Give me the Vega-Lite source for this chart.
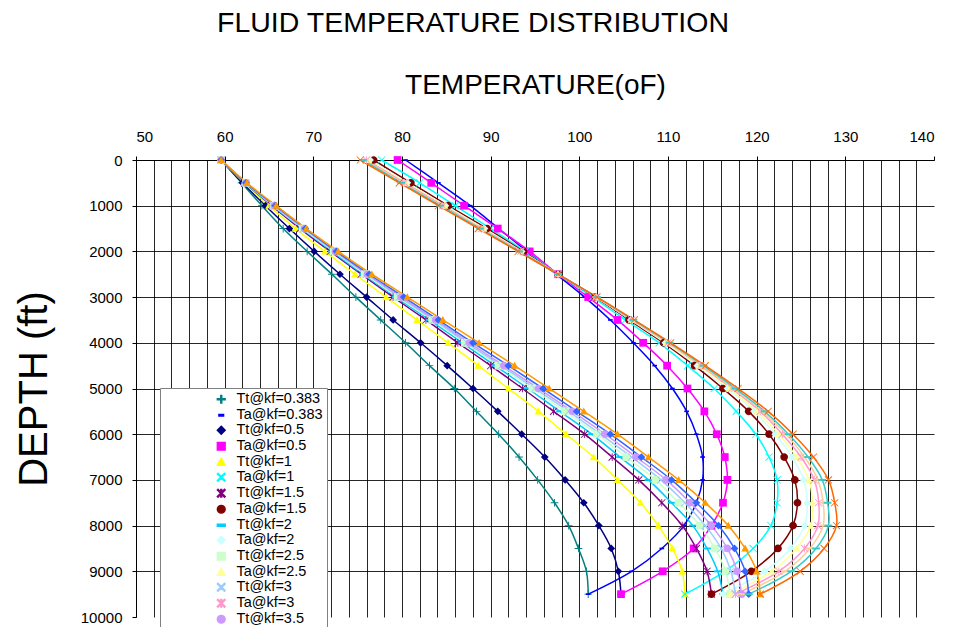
{
"$schema":"https://vega.github.io/schema/vega-lite/v6.json",
"width":798,"height":457,
"autosize":{"type":"none"},
"padding":{"left":136,"top":160,"right":19,"bottom":10},
"background":"white",
"config":{"font":"Liberation Sans","view":{"stroke":null},"axis":{"domainColor":"#000","gridColor":"#000","tickColor":"#000","labelColor":"#000","titleColor":"#000","labelFont":"Liberation Sans","titleFont":"Liberation Sans","titleFontWeight":"normal"}},
"title":{"text":"FLUID TEMPERATURE DISTRIBUTION","fontSize":28.5,"fontWeight":"normal","font":"Liberation Sans","color":"#000","anchor":"middle","dx":-62,"offset":34},
"datasets":{"v":[
{"s":"Tt@kf=0.383","d":0,"t":59.6},{"s":"Tt@kf=0.383","d":500,"t":61.9},{"s":"Tt@kf=0.383","d":1000,"t":64.2},{"s":"Tt@kf=0.383","d":1500,"t":66.6},{"s":"Tt@kf=0.383","d":2000,"t":69.3},{"s":"Tt@kf=0.383","d":2500,"t":72.1},{"s":"Tt@kf=0.383","d":3000,"t":74.8},{"s":"Tt@kf=0.383","d":3500,"t":77.6},{"s":"Tt@kf=0.383","d":4000,"t":80.4},{"s":"Tt@kf=0.383","d":4500,"t":83.1},{"s":"Tt@kf=0.383","d":5000,"t":85.9},{"s":"Tt@kf=0.383","d":5500,"t":88.4},{"s":"Tt@kf=0.383","d":6000,"t":90.9},{"s":"Tt@kf=0.383","d":6500,"t":93.2},{"s":"Tt@kf=0.383","d":7000,"t":95.3},{"s":"Tt@kf=0.383","d":7500,"t":97.2},{"s":"Tt@kf=0.383","d":8000,"t":98.8},{"s":"Tt@kf=0.383","d":8500,"t":99.9},{"s":"Tt@kf=0.383","d":9000,"t":100.8},{"s":"Tt@kf=0.383","d":9500,"t":101.0},
{"s":"Ta@kf=0.383","d":0,"t":80.4},{"s":"Ta@kf=0.383","d":500,"t":84.1},{"s":"Ta@kf=0.383","d":1000,"t":87.7},{"s":"Ta@kf=0.383","d":1500,"t":90.9},{"s":"Ta@kf=0.383","d":2000,"t":94.1},{"s":"Ta@kf=0.383","d":2500,"t":97.4},{"s":"Ta@kf=0.383","d":3000,"t":100.6},{"s":"Ta@kf=0.383","d":3500,"t":103.5},{"s":"Ta@kf=0.383","d":4000,"t":106.1},{"s":"Ta@kf=0.383","d":4500,"t":108.5},{"s":"Ta@kf=0.383","d":5000,"t":110.5},{"s":"Ta@kf=0.383","d":5500,"t":112.1},{"s":"Ta@kf=0.383","d":6000,"t":113.2},{"s":"Ta@kf=0.383","d":6500,"t":113.9},{"s":"Ta@kf=0.383","d":7000,"t":113.9},{"s":"Ta@kf=0.383","d":7500,"t":113.2},{"s":"Ta@kf=0.383","d":8000,"t":111.8},{"s":"Ta@kf=0.383","d":8500,"t":109.3},{"s":"Ta@kf=0.383","d":9000,"t":105.9},{"s":"Ta@kf=0.383","d":9500,"t":101.0},
{"s":"Tt@kf=0.5","d":0,"t":59.6},{"s":"Tt@kf=0.5","d":500,"t":62.0},{"s":"Tt@kf=0.5","d":1000,"t":64.6},{"s":"Tt@kf=0.5","d":1500,"t":67.3},{"s":"Tt@kf=0.5","d":2000,"t":70.1},{"s":"Tt@kf=0.5","d":2500,"t":73.0},{"s":"Tt@kf=0.5","d":3000,"t":76.0},{"s":"Tt@kf=0.5","d":3500,"t":79.0},{"s":"Tt@kf=0.5","d":4000,"t":82.1},{"s":"Tt@kf=0.5","d":4500,"t":85.1},{"s":"Tt@kf=0.5","d":5000,"t":88.0},{"s":"Tt@kf=0.5","d":5500,"t":90.8},{"s":"Tt@kf=0.5","d":6000,"t":93.5},{"s":"Tt@kf=0.5","d":6500,"t":96.1},{"s":"Tt@kf=0.5","d":7000,"t":98.4},{"s":"Tt@kf=0.5","d":7500,"t":100.5},{"s":"Tt@kf=0.5","d":8000,"t":102.2},{"s":"Tt@kf=0.5","d":8500,"t":103.6},{"s":"Tt@kf=0.5","d":9000,"t":104.4},{"s":"Tt@kf=0.5","d":9500,"t":104.7},
{"s":"Ta@kf=0.5","d":0,"t":79.5},{"s":"Ta@kf=0.5","d":500,"t":83.3},{"s":"Ta@kf=0.5","d":1000,"t":87.0},{"s":"Ta@kf=0.5","d":1500,"t":90.8},{"s":"Ta@kf=0.5","d":2000,"t":94.4},{"s":"Ta@kf=0.5","d":2500,"t":97.6},{"s":"Ta@kf=0.5","d":3000,"t":101.0},{"s":"Ta@kf=0.5","d":3500,"t":104.3},{"s":"Ta@kf=0.5","d":4000,"t":107.2},{"s":"Ta@kf=0.5","d":4500,"t":109.9},{"s":"Ta@kf=0.5","d":5000,"t":112.2},{"s":"Ta@kf=0.5","d":5500,"t":114.1},{"s":"Ta@kf=0.5","d":6000,"t":115.5},{"s":"Ta@kf=0.5","d":6500,"t":116.4},{"s":"Ta@kf=0.5","d":7000,"t":116.7},{"s":"Ta@kf=0.5","d":7500,"t":116.2},{"s":"Ta@kf=0.5","d":8000,"t":114.9},{"s":"Ta@kf=0.5","d":8500,"t":112.9},{"s":"Ta@kf=0.5","d":9000,"t":109.4},{"s":"Ta@kf=0.5","d":9500,"t":104.7},
{"s":"Tt@kf=1","d":0,"t":59.6},{"s":"Tt@kf=1","d":500,"t":62.2},{"s":"Tt@kf=1","d":1000,"t":65.0},{"s":"Tt@kf=1","d":1500,"t":68.0},{"s":"Tt@kf=1","d":2000,"t":71.3},{"s":"Tt@kf=1","d":2500,"t":74.7},{"s":"Tt@kf=1","d":3000,"t":78.2},{"s":"Tt@kf=1","d":3500,"t":81.7},{"s":"Tt@kf=1","d":4000,"t":85.2},{"s":"Tt@kf=1","d":4500,"t":88.6},{"s":"Tt@kf=1","d":5000,"t":92.0},{"s":"Tt@kf=1","d":5500,"t":95.4},{"s":"Tt@kf=1","d":6000,"t":98.5},{"s":"Tt@kf=1","d":6500,"t":101.6},{"s":"Tt@kf=1","d":7000,"t":104.3},{"s":"Tt@kf=1","d":7500,"t":106.9},{"s":"Tt@kf=1","d":8000,"t":108.9},{"s":"Tt@kf=1","d":8500,"t":110.5},{"s":"Tt@kf=1","d":9000,"t":111.6},{"s":"Tt@kf=1","d":9500,"t":111.9},
{"s":"Ta@kf=1","d":0,"t":77.7},{"s":"Ta@kf=1","d":500,"t":82.0},{"s":"Ta@kf=1","d":1000,"t":86.0},{"s":"Ta@kf=1","d":1500,"t":90.0},{"s":"Ta@kf=1","d":2000,"t":93.9},{"s":"Ta@kf=1","d":2500,"t":97.6},{"s":"Ta@kf=1","d":3000,"t":101.5},{"s":"Ta@kf=1","d":3500,"t":105.2},{"s":"Ta@kf=1","d":4000,"t":109.0},{"s":"Ta@kf=1","d":4500,"t":112.2},{"s":"Ta@kf=1","d":5000,"t":115.2},{"s":"Ta@kf=1","d":5500,"t":117.7},{"s":"Ta@kf=1","d":6000,"t":119.9},{"s":"Ta@kf=1","d":6500,"t":121.4},{"s":"Ta@kf=1","d":7000,"t":122.3},{"s":"Ta@kf=1","d":7500,"t":122.3},{"s":"Ta@kf=1","d":8000,"t":121.6},{"s":"Ta@kf=1","d":8500,"t":119.6},{"s":"Ta@kf=1","d":9000,"t":116.4},{"s":"Ta@kf=1","d":9500,"t":111.9},
{"s":"Tt@kf=1.5","d":0,"t":59.6},{"s":"Tt@kf=1.5","d":500,"t":62.3},{"s":"Tt@kf=1.5","d":1000,"t":65.3},{"s":"Tt@kf=1.5","d":1500,"t":68.5},{"s":"Tt@kf=1.5","d":2000,"t":71.9},{"s":"Tt@kf=1.5","d":2500,"t":75.4},{"s":"Tt@kf=1.5","d":3000,"t":79.0},{"s":"Tt@kf=1.5","d":3500,"t":82.7},{"s":"Tt@kf=1.5","d":4000,"t":86.3},{"s":"Tt@kf=1.5","d":4500,"t":90.0},{"s":"Tt@kf=1.5","d":5000,"t":93.6},{"s":"Tt@kf=1.5","d":5500,"t":97.1},{"s":"Tt@kf=1.5","d":6000,"t":100.6},{"s":"Tt@kf=1.5","d":6500,"t":103.7},{"s":"Tt@kf=1.5","d":7000,"t":106.7},{"s":"Tt@kf=1.5","d":7500,"t":109.3},{"s":"Tt@kf=1.5","d":8000,"t":111.6},{"s":"Tt@kf=1.5","d":8500,"t":113.2},{"s":"Tt@kf=1.5","d":9000,"t":114.4},{"s":"Tt@kf=1.5","d":9500,"t":114.9},
{"s":"Ta@kf=1.5","d":0,"t":76.8},{"s":"Ta@kf=1.5","d":500,"t":81.0},{"s":"Ta@kf=1.5","d":1000,"t":85.2},{"s":"Ta@kf=1.5","d":1500,"t":89.6},{"s":"Ta@kf=1.5","d":2000,"t":93.7},{"s":"Ta@kf=1.5","d":2500,"t":97.6},{"s":"Ta@kf=1.5","d":3000,"t":101.8},{"s":"Ta@kf=1.5","d":3500,"t":105.6},{"s":"Ta@kf=1.5","d":4000,"t":109.5},{"s":"Ta@kf=1.5","d":4500,"t":113.0},{"s":"Ta@kf=1.5","d":5000,"t":116.2},{"s":"Ta@kf=1.5","d":5500,"t":119.1},{"s":"Ta@kf=1.5","d":6000,"t":121.4},{"s":"Ta@kf=1.5","d":6500,"t":123.1},{"s":"Ta@kf=1.5","d":7000,"t":124.3},{"s":"Ta@kf=1.5","d":7500,"t":124.6},{"s":"Ta@kf=1.5","d":8000,"t":124.1},{"s":"Ta@kf=1.5","d":8500,"t":122.4},{"s":"Ta@kf=1.5","d":9000,"t":119.4},{"s":"Ta@kf=1.5","d":9500,"t":114.9},
{"s":"Tt@kf=2","d":0,"t":59.6},{"s":"Tt@kf=2","d":500,"t":62.3},{"s":"Tt@kf=2","d":1000,"t":65.4},{"s":"Tt@kf=2","d":1500,"t":68.7},{"s":"Tt@kf=2","d":2000,"t":72.1},{"s":"Tt@kf=2","d":2500,"t":75.6},{"s":"Tt@kf=2","d":3000,"t":79.3},{"s":"Tt@kf=2","d":3500,"t":83.1},{"s":"Tt@kf=2","d":4000,"t":86.8},{"s":"Tt@kf=2","d":4500,"t":90.5},{"s":"Tt@kf=2","d":5000,"t":94.2},{"s":"Tt@kf=2","d":5500,"t":97.8},{"s":"Tt@kf=2","d":6000,"t":101.4},{"s":"Tt@kf=2","d":6500,"t":104.6},{"s":"Tt@kf=2","d":7000,"t":107.8},{"s":"Tt@kf=2","d":7500,"t":110.4},{"s":"Tt@kf=2","d":8000,"t":112.8},{"s":"Tt@kf=2","d":8500,"t":114.4},{"s":"Tt@kf=2","d":9000,"t":115.6},{"s":"Tt@kf=2","d":9500,"t":116.2},
{"s":"Ta@kf=2","d":0,"t":76.4},{"s":"Ta@kf=2","d":500,"t":80.6},{"s":"Ta@kf=2","d":1000,"t":84.9},{"s":"Ta@kf=2","d":1500,"t":89.3},{"s":"Ta@kf=2","d":2000,"t":93.5},{"s":"Ta@kf=2","d":2500,"t":97.6},{"s":"Ta@kf=2","d":3000,"t":101.9},{"s":"Ta@kf=2","d":3500,"t":105.8},{"s":"Ta@kf=2","d":4000,"t":109.7},{"s":"Ta@kf=2","d":4500,"t":113.3},{"s":"Ta@kf=2","d":5000,"t":116.7},{"s":"Ta@kf=2","d":5500,"t":119.7},{"s":"Ta@kf=2","d":6000,"t":122.1},{"s":"Ta@kf=2","d":6500,"t":124.0},{"s":"Ta@kf=2","d":7000,"t":125.3},{"s":"Ta@kf=2","d":7500,"t":125.7},{"s":"Ta@kf=2","d":8000,"t":125.4},{"s":"Ta@kf=2","d":8500,"t":123.8},{"s":"Ta@kf=2","d":9000,"t":120.9},{"s":"Ta@kf=2","d":9500,"t":116.2},
{"s":"Tt@kf=2.5","d":0,"t":59.6},{"s":"Tt@kf=2.5","d":500,"t":62.4},{"s":"Tt@kf=2.5","d":1000,"t":65.5},{"s":"Tt@kf=2.5","d":1500,"t":68.8},{"s":"Tt@kf=2.5","d":2000,"t":72.3},{"s":"Tt@kf=2.5","d":2500,"t":75.8},{"s":"Tt@kf=2.5","d":3000,"t":79.5},{"s":"Tt@kf=2.5","d":3500,"t":83.4},{"s":"Tt@kf=2.5","d":4000,"t":87.1},{"s":"Tt@kf=2.5","d":4500,"t":90.9},{"s":"Tt@kf=2.5","d":5000,"t":94.7},{"s":"Tt@kf=2.5","d":5500,"t":98.4},{"s":"Tt@kf=2.5","d":6000,"t":102.0},{"s":"Tt@kf=2.5","d":6500,"t":105.3},{"s":"Tt@kf=2.5","d":7000,"t":108.6},{"s":"Tt@kf=2.5","d":7500,"t":111.2},{"s":"Tt@kf=2.5","d":8000,"t":113.6},{"s":"Tt@kf=2.5","d":8500,"t":115.3},{"s":"Tt@kf=2.5","d":9000,"t":116.5},{"s":"Tt@kf=2.5","d":9500,"t":117.0},
{"s":"Ta@kf=2.5","d":0,"t":76.2},{"s":"Ta@kf=2.5","d":500,"t":80.5},{"s":"Ta@kf=2.5","d":1000,"t":84.8},{"s":"Ta@kf=2.5","d":1500,"t":89.2},{"s":"Ta@kf=2.5","d":2000,"t":93.4},{"s":"Ta@kf=2.5","d":2500,"t":97.6},{"s":"Ta@kf=2.5","d":3000,"t":101.9},{"s":"Ta@kf=2.5","d":3500,"t":105.9},{"s":"Ta@kf=2.5","d":4000,"t":109.8},{"s":"Ta@kf=2.5","d":4500,"t":113.5},{"s":"Ta@kf=2.5","d":5000,"t":116.9},{"s":"Ta@kf=2.5","d":5500,"t":120.0},{"s":"Ta@kf=2.5","d":6000,"t":122.5},{"s":"Ta@kf=2.5","d":6500,"t":124.5},{"s":"Ta@kf=2.5","d":7000,"t":125.9},{"s":"Ta@kf=2.5","d":7500,"t":126.3},{"s":"Ta@kf=2.5","d":8000,"t":126.1},{"s":"Ta@kf=2.5","d":8500,"t":124.5},{"s":"Ta@kf=2.5","d":9000,"t":121.7},{"s":"Ta@kf=2.5","d":9500,"t":117.0},
{"s":"Tt@kf=3","d":0,"t":59.6},{"s":"Tt@kf=3","d":500,"t":62.4},{"s":"Tt@kf=3","d":1000,"t":65.5},{"s":"Tt@kf=3","d":1500,"t":68.9},{"s":"Tt@kf=3","d":2000,"t":72.4},{"s":"Tt@kf=3","d":2500,"t":76.0},{"s":"Tt@kf=3","d":3000,"t":79.7},{"s":"Tt@kf=3","d":3500,"t":83.6},{"s":"Tt@kf=3","d":4000,"t":87.3},{"s":"Tt@kf=3","d":4500,"t":91.2},{"s":"Tt@kf=3","d":5000,"t":95.0},{"s":"Tt@kf=3","d":5500,"t":98.8},{"s":"Tt@kf=3","d":6000,"t":102.4},{"s":"Tt@kf=3","d":6500,"t":105.9},{"s":"Tt@kf=3","d":7000,"t":109.2},{"s":"Tt@kf=3","d":7500,"t":111.9},{"s":"Tt@kf=3","d":8000,"t":114.2},{"s":"Tt@kf=3","d":8500,"t":116.0},{"s":"Tt@kf=3","d":9000,"t":117.1},{"s":"Tt@kf=3","d":9500,"t":117.6},
{"s":"Ta@kf=3","d":0,"t":76.0},{"s":"Ta@kf=3","d":500,"t":80.3},{"s":"Ta@kf=3","d":1000,"t":84.6},{"s":"Ta@kf=3","d":1500,"t":89.0},{"s":"Ta@kf=3","d":2000,"t":93.4},{"s":"Ta@kf=3","d":2500,"t":97.6},{"s":"Ta@kf=3","d":3000,"t":101.9},{"s":"Ta@kf=3","d":3500,"t":105.9},{"s":"Ta@kf=3","d":4000,"t":110.0},{"s":"Ta@kf=3","d":4500,"t":113.7},{"s":"Ta@kf=3","d":5000,"t":117.2},{"s":"Ta@kf=3","d":5500,"t":120.4},{"s":"Ta@kf=3","d":6000,"t":122.9},{"s":"Ta@kf=3","d":6500,"t":125.0},{"s":"Ta@kf=3","d":7000,"t":126.5},{"s":"Ta@kf=3","d":7500,"t":127.0},{"s":"Ta@kf=3","d":8000,"t":126.9},{"s":"Ta@kf=3","d":8500,"t":125.4},{"s":"Ta@kf=3","d":9000,"t":122.5},{"s":"Ta@kf=3","d":9500,"t":117.6},
{"s":"Tt@kf=3.5","d":0,"t":59.6},{"s":"Tt@kf=3.5","d":500,"t":62.4},{"s":"Tt@kf=3.5","d":1000,"t":65.6},{"s":"Tt@kf=3.5","d":1500,"t":69.0},{"s":"Tt@kf=3.5","d":2000,"t":72.5},{"s":"Tt@kf=3.5","d":2500,"t":76.1},{"s":"Tt@kf=3.5","d":3000,"t":79.9},{"s":"Tt@kf=3.5","d":3500,"t":83.8},{"s":"Tt@kf=3.5","d":4000,"t":87.6},{"s":"Tt@kf=3.5","d":4500,"t":91.5},{"s":"Tt@kf=3.5","d":5000,"t":95.4},{"s":"Tt@kf=3.5","d":5500,"t":99.2},{"s":"Tt@kf=3.5","d":6000,"t":102.9},{"s":"Tt@kf=3.5","d":6500,"t":106.4},{"s":"Tt@kf=3.5","d":7000,"t":109.8},{"s":"Tt@kf=3.5","d":7500,"t":112.5},{"s":"Tt@kf=3.5","d":8000,"t":114.9},{"s":"Tt@kf=3.5","d":8500,"t":116.7},{"s":"Tt@kf=3.5","d":9000,"t":117.8},{"s":"Tt@kf=3.5","d":9500,"t":118.3},
{"s":"Ta@kf=3.5","d":0,"t":75.8},{"s":"Ta@kf=3.5","d":500,"t":80.1},{"s":"Ta@kf=3.5","d":1000,"t":84.4},{"s":"Ta@kf=3.5","d":1500,"t":88.9},{"s":"Ta@kf=3.5","d":2000,"t":93.3},{"s":"Ta@kf=3.5","d":2500,"t":97.6},{"s":"Ta@kf=3.5","d":3000,"t":101.9},{"s":"Ta@kf=3.5","d":3500,"t":106.0},{"s":"Ta@kf=3.5","d":4000,"t":110.1},{"s":"Ta@kf=3.5","d":4500,"t":113.8},{"s":"Ta@kf=3.5","d":5000,"t":117.4},{"s":"Ta@kf=3.5","d":5500,"t":120.6},{"s":"Ta@kf=3.5","d":6000,"t":123.3},{"s":"Ta@kf=3.5","d":6500,"t":125.4},{"s":"Ta@kf=3.5","d":7000,"t":126.9},{"s":"Ta@kf=3.5","d":7500,"t":127.5},{"s":"Ta@kf=3.5","d":8000,"t":127.5},{"s":"Ta@kf=3.5","d":8500,"t":126.0},{"s":"Ta@kf=3.5","d":9000,"t":123.2},{"s":"Ta@kf=3.5","d":9500,"t":118.3},
{"s":"Tt@kf=4","d":0,"t":59.6},{"s":"Tt@kf=4","d":500,"t":62.4},{"s":"Tt@kf=4","d":1000,"t":65.7},{"s":"Tt@kf=4","d":1500,"t":69.1},{"s":"Tt@kf=4","d":2000,"t":72.6},{"s":"Tt@kf=4","d":2500,"t":76.3},{"s":"Tt@kf=4","d":3000,"t":80.2},{"s":"Tt@kf=4","d":3500,"t":84.1},{"s":"Tt@kf=4","d":4000,"t":88.0},{"s":"Tt@kf=4","d":4500,"t":92.0},{"s":"Tt@kf=4","d":5000,"t":95.9},{"s":"Tt@kf=4","d":5500,"t":99.7},{"s":"Tt@kf=4","d":6000,"t":103.5},{"s":"Tt@kf=4","d":6500,"t":107.0},{"s":"Tt@kf=4","d":7000,"t":110.4},{"s":"Tt@kf=4","d":7500,"t":113.2},{"s":"Tt@kf=4","d":8000,"t":115.7},{"s":"Tt@kf=4","d":8500,"t":117.5},{"s":"Tt@kf=4","d":9000,"t":118.7},{"s":"Tt@kf=4","d":9500,"t":119.1},
{"s":"Ta@kf=4","d":0,"t":75.6},{"s":"Ta@kf=4","d":500,"t":79.9},{"s":"Ta@kf=4","d":1000,"t":84.3},{"s":"Ta@kf=4","d":1500,"t":88.8},{"s":"Ta@kf=4","d":2000,"t":93.2},{"s":"Ta@kf=4","d":2500,"t":97.6},{"s":"Ta@kf=4","d":3000,"t":102.0},{"s":"Ta@kf=4","d":3500,"t":106.1},{"s":"Ta@kf=4","d":4000,"t":110.2},{"s":"Ta@kf=4","d":4500,"t":114.0},{"s":"Ta@kf=4","d":5000,"t":117.6},{"s":"Ta@kf=4","d":5500,"t":120.9},{"s":"Ta@kf=4","d":6000,"t":123.6},{"s":"Ta@kf=4","d":6500,"t":125.8},{"s":"Ta@kf=4","d":7000,"t":127.4},{"s":"Ta@kf=4","d":7500,"t":128.0},{"s":"Ta@kf=4","d":8000,"t":128.1},{"s":"Ta@kf=4","d":8500,"t":126.7},{"s":"Ta@kf=4","d":9000,"t":123.9},{"s":"Ta@kf=4","d":9500,"t":119.1},
{"s":"Tt@kf=5","d":0,"t":59.6},{"s":"Tt@kf=5","d":500,"t":62.5},{"s":"Tt@kf=5","d":1000,"t":65.8},{"s":"Tt@kf=5","d":1500,"t":69.2},{"s":"Tt@kf=5","d":2000,"t":72.8},{"s":"Tt@kf=5","d":2500,"t":76.6},{"s":"Tt@kf=5","d":3000,"t":80.6},{"s":"Tt@kf=5","d":3500,"t":84.6},{"s":"Tt@kf=5","d":4000,"t":88.7},{"s":"Tt@kf=5","d":4500,"t":92.7},{"s":"Tt@kf=5","d":5000,"t":96.6},{"s":"Tt@kf=5","d":5500,"t":100.5},{"s":"Tt@kf=5","d":6000,"t":104.3},{"s":"Tt@kf=5","d":6500,"t":107.8},{"s":"Tt@kf=5","d":7000,"t":111.2},{"s":"Tt@kf=5","d":7500,"t":114.2},{"s":"Tt@kf=5","d":8000,"t":116.8},{"s":"Tt@kf=5","d":8500,"t":118.7},{"s":"Tt@kf=5","d":9000,"t":120.0},{"s":"Tt@kf=5","d":9500,"t":120.4},
{"s":"Ta@kf=5","d":0,"t":75.3},{"s":"Ta@kf=5","d":500,"t":79.7},{"s":"Ta@kf=5","d":1000,"t":84.1},{"s":"Ta@kf=5","d":1500,"t":88.6},{"s":"Ta@kf=5","d":2000,"t":93.1},{"s":"Ta@kf=5","d":2500,"t":97.6},{"s":"Ta@kf=5","d":3000,"t":102.0},{"s":"Ta@kf=5","d":3500,"t":106.2},{"s":"Ta@kf=5","d":4000,"t":110.3},{"s":"Ta@kf=5","d":4500,"t":114.2},{"s":"Ta@kf=5","d":5000,"t":117.9},{"s":"Ta@kf=5","d":5500,"t":121.3},{"s":"Ta@kf=5","d":6000,"t":124.1},{"s":"Ta@kf=5","d":6500,"t":126.4},{"s":"Ta@kf=5","d":7000,"t":128.1},{"s":"Ta@kf=5","d":7500,"t":128.8},{"s":"Ta@kf=5","d":8000,"t":129.0},{"s":"Ta@kf=5","d":8500,"t":127.6},{"s":"Ta@kf=5","d":9000,"t":124.9},{"s":"Ta@kf=5","d":9500,"t":120.4}
]},
"data":{"name":"v"},
"encoding":{
 "x":{"field":"t","type":"quantitative","scale":{"domain":[50,140],"nice":false,"zero":false},
  "axis":{"orient":"top","title":"TEMPERATURE(oF)","titleFontSize":28,"titlePadding":30,"labelFontSize":15,"labelPadding":12,"tickSize":4,
   "values":[50,52,54,56,58,60,62,64,66,68,70,72,74,76,78,80,82,84,86,88,90,92,94,96,98,100,102,104,106,108,110,112,114,116,118,120,122,124,126,128,130,132,134,136,138,140],
   "labelExpr":"datum.value % 10 === 0 ? datum.label : ''",
   "tickOpacity":{"condition":{"test":"datum.value % 10 === 0","value":1},"value":0},
   "gridOpacity":{"condition":{"test":"datum.value >= 140","value":0},"value":0.85},
   "grid":true}},
 "y":{"field":"d","type":"quantitative","scale":{"domain":[0,10000],"reverse":true,"nice":false,"zero":false},
  "axis":{"title":"DEPTH (ft)","titleFontSize":40,"titlePadding":26,"labelFontSize":15,"labelPadding":10,"tickSize":4,"format":"d",
   "values":[0,1000,2000,3000,4000,5000,6000,7000,8000,9000,10000],
   "gridOpacity":{"condition":{"test":"datum.value >= 10000","value":0},"value":0.85},
   "grid":true}},
 "color":{"field":"s","type":"nominal",
  "scale":{"domain":["Tt@kf=0.383","Ta@kf=0.383","Tt@kf=0.5","Ta@kf=0.5","Tt@kf=1","Ta@kf=1","Tt@kf=1.5","Ta@kf=1.5","Tt@kf=2","Ta@kf=2","Tt@kf=2.5","Ta@kf=2.5","Tt@kf=3","Ta@kf=3","Tt@kf=3.5","Ta@kf=3.5","Tt@kf=4","Ta@kf=4","Tt@kf=5","Ta@kf=5"],
   "range":["#008080","#0000FF","#000080","#FF00FF","#FFFF00","#00FFFF","#800080","#800000","#00CCFF","#CCFFFF","#CCFFCC","#FFFF99","#99CCFF","#FF99CC","#CC99FF","#FFCC99","#3366FF","#33CCCC","#FF9900","#FF6600"]},
  "legend":{"orient":"none","legendX":24,"legendY":228,"title":null,"fillColor":"white","strokeColor":"#808080","padding":4,"symbolOffset":50,"labelOffset":8,"labelFontSize":14.5,"labelFont":"Liberation Sans","labelColor":"#000","rowPadding":0,"symbolSize":60,
   "values":["Tt@kf=0.383","Ta@kf=0.383","Tt@kf=0.5","Ta@kf=0.5","Tt@kf=1","Ta@kf=1","Tt@kf=1.5","Ta@kf=1.5","Tt@kf=2","Ta@kf=2","Tt@kf=2.5","Ta@kf=2.5","Tt@kf=3","Ta@kf=3","Tt@kf=3.5"]}}
},
"layer":[
 {"mark":{"type":"line","strokeWidth":1.5,"interpolate":"catmull-rom"},"encoding":{"order":{"field":"d","type":"quantitative"}}},
 {"mark":{"type":"point","filled":true,"opacity":1,"size":60},
  "encoding":{"shape":{"field":"s","type":"nominal",
   "scale":{"domain":["Tt@kf=0.383","Ta@kf=0.383","Tt@kf=0.5","Ta@kf=0.5","Tt@kf=1","Ta@kf=1","Tt@kf=1.5","Ta@kf=1.5","Tt@kf=2","Ta@kf=2","Tt@kf=2.5","Ta@kf=2.5","Tt@kf=3","Ta@kf=3","Tt@kf=3.5","Ta@kf=3.5","Tt@kf=4","Ta@kf=4","Tt@kf=5","Ta@kf=5"],
    "range":["M-1,-0.12H1V0.12H-1Z M-0.12,-1H0.12V1H-0.12Z","M-0.6,-0.22H0.6V0.22H-0.6Z","M0,-1L1,0L0,1L-1,0Z","M-1,-1H1V1H-1Z","M0,-1L1,0.8H-1Z","M-1,-0.84L-0.84,-1L0,-0.16L0.84,-1L1,-0.84L0.16,0L1,0.84L0.84,1L0,0.16L-0.84,1L-1,0.84L-0.16,0Z","M-1,-0.84L-0.84,-1L0,-0.16L0.84,-1L1,-0.84L0.16,0L1,0.84L0.84,1L0,0.16L-0.84,1L-1,0.84L-0.16,0Z M-0.11,-1H0.11V1H-0.11Z","M1,0A1,1 0 1,1 -1,0A1,1 0 1,1 1,0Z","M-1,-0.25H1V0.25H-1Z","M0,-1L1,0L0,1L-1,0Z","M-1,-1H1V1H-1Z","M0,-1L1,0.8H-1Z","M-1,-0.84L-0.84,-1L0,-0.16L0.84,-1L1,-0.84L0.16,0L1,0.84L0.84,1L0,0.16L-0.84,1L-1,0.84L-0.16,0Z","M-1,-0.84L-0.84,-1L0,-0.16L0.84,-1L1,-0.84L0.16,0L1,0.84L0.84,1L0,0.16L-0.84,1L-1,0.84L-0.16,0Z M-0.11,-1H0.11V1H-0.11Z","M1,0A1,1 0 1,1 -1,0A1,1 0 1,1 1,0Z","M-1,-0.25H1V0.25H-1Z","M0,-1L1,0L0,1L-1,0Z","M-1,-0.25H1V0.25H-1Z","M0,-1L1,0.8H-1Z","M-1,-0.84L-0.84,-1L0,-0.16L0.84,-1L1,-0.84L0.16,0L1,0.84L0.84,1L0,0.16L-0.84,1L-1,0.84L-0.16,0Z"]},
   "legend":{"orient":"none","legendX":24,"legendY":228,"title":null,"fillColor":"white","strokeColor":"#808080","padding":4,"symbolOffset":50,"labelOffset":8,"labelFontSize":14.5,"labelFont":"Liberation Sans","labelColor":"#000","rowPadding":0,"symbolSize":60,
    "values":["Tt@kf=0.383","Ta@kf=0.383","Tt@kf=0.5","Ta@kf=0.5","Tt@kf=1","Ta@kf=1","Tt@kf=1.5","Ta@kf=1.5","Tt@kf=2","Ta@kf=2","Tt@kf=2.5","Ta@kf=2.5","Tt@kf=3","Ta@kf=3","Tt@kf=3.5"]}}}}
]
}
